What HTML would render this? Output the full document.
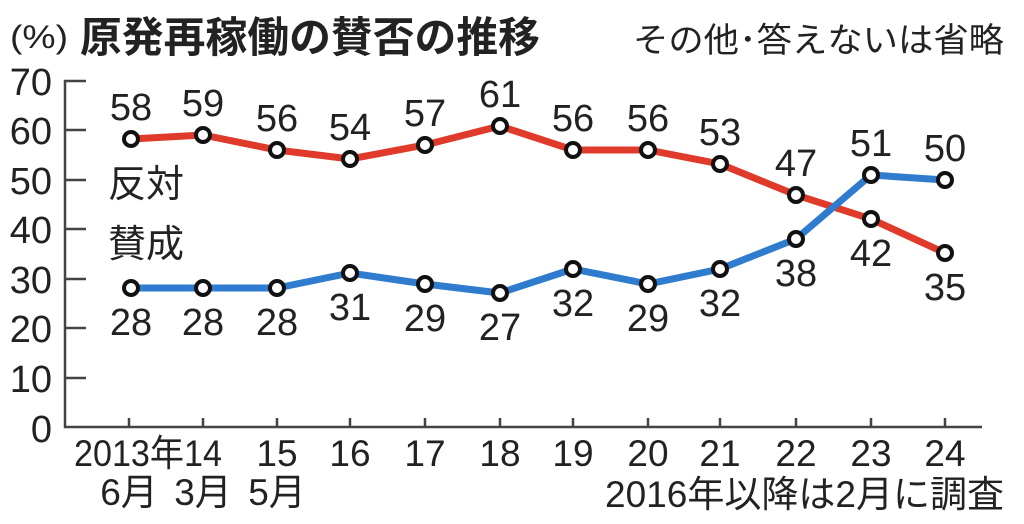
<!DOCTYPE html>
<html><head><meta charset="utf-8"><style>
body{margin:0;background:#fff;}
svg text{font-family:"Liberation Sans","Noto Sans CJK JP",sans-serif;fill:#222;}
</style></head><body>
<svg width="1024" height="519" viewBox="0 0 1024 519" xmlns="http://www.w3.org/2000/svg">
<rect width="1024" height="519" fill="#fff"/>
<text x="10" y="48" font-size="32" fill="#333" textLength="58" lengthAdjust="spacingAndGlyphs">(%)</text>
<text x="80" y="52" font-size="42" font-weight="bold" fill="#222" textLength="460" lengthAdjust="spacingAndGlyphs">原発再稼働の賛否の推移</text>
<text x="633" y="52" font-size="34" fill="#333" textLength="371" lengthAdjust="spacingAndGlyphs">その他･答えないは省略</text>
<g font-size="38" text-anchor="end" fill="#333">
<text x="52" y="95">70</text><text x="52" y="144">60</text><text x="52" y="194">50</text><text x="52" y="243">40</text><text x="52" y="293">30</text><text x="52" y="342">20</text><text x="52" y="392">10</text><text x="52" y="442">0</text>
</g>
<g stroke="#444" stroke-width="2.5" fill="none">
<path d="M86 81H65V427H982"/>
<path d="M65 130H86M65 180H86M65 229H86M65 279H86M65 328H86M65 378H86"/>
<path d="M129 427v-9M203 427v-9M277 427v-9M350 427v-9M425 427v-9M500 427v-9M573 427v-9M648 427v-9M720 427v-9M796 427v-9M871 427v-9M945 427v-9"/>
</g>
<g font-size="37" text-anchor="middle" fill="#333">
<text x="74" y="466" text-anchor="start" textLength="148" lengthAdjust="spacingAndGlyphs">2013年14</text>
<text x="277" y="466">15</text><text x="350" y="466">16</text><text x="425" y="466">17</text><text x="500" y="466">18</text><text x="573" y="466">19</text><text x="648" y="466">20</text><text x="720" y="466">21</text><text x="796" y="466">22</text><text x="871" y="466">23</text><text x="945" y="466">24</text>
<text x="129" y="505">6月</text><text x="203" y="505">3月</text><text x="277" y="505">5月</text>
<text x="605" y="507" text-anchor="start" textLength="399" lengthAdjust="spacingAndGlyphs">2016年以降は2月に調査</text>
</g>
<polyline fill="none" stroke="#e03a2a" stroke-width="7" points="131,139 203,135 277,150 350,159 425,145 500,126 573,150 648,150 720,164 796,195 871,219 945,253"/>
<polyline fill="none" stroke="#2f7ccf" stroke-width="7" points="131,288 203,288 277,288 350,273 425,284 500,293 573,269 648,284 720,269 796,239 871,175 945,180"/>
<g fill="#fff" stroke="#111" stroke-width="4">
<circle cx="131" cy="139" r="7"/><circle cx="203" cy="135" r="7"/><circle cx="277" cy="150" r="7"/><circle cx="350" cy="159" r="7"/><circle cx="425" cy="145" r="7"/><circle cx="500" cy="126" r="7"/><circle cx="573" cy="150" r="7"/><circle cx="648" cy="150" r="7"/><circle cx="720" cy="164" r="7"/><circle cx="796" cy="195" r="7"/><circle cx="871" cy="219" r="7"/><circle cx="945" cy="253" r="7"/>
<circle cx="131" cy="288" r="7"/><circle cx="203" cy="288" r="7"/><circle cx="277" cy="288" r="7"/><circle cx="350" cy="273" r="7"/><circle cx="425" cy="284" r="7"/><circle cx="500" cy="293" r="7"/><circle cx="573" cy="269" r="7"/><circle cx="648" cy="284" r="7"/><circle cx="720" cy="269" r="7"/><circle cx="796" cy="239" r="7"/><circle cx="871" cy="175" r="7"/><circle cx="945" cy="180" r="7"/>
</g>
<g font-size="38" text-anchor="middle" fill="#222">
<text x="131" y="120">58</text><text x="203" y="116">59</text><text x="277" y="131">56</text><text x="350" y="140">54</text><text x="425" y="126">57</text><text x="500" y="107">61</text><text x="573" y="131">56</text><text x="648" y="131">56</text><text x="720" y="145">53</text><text x="796" y="176">47</text><text x="871" y="156">51</text><text x="945" y="161">50</text>
<text x="131" y="335">28</text><text x="203" y="335">28</text><text x="277" y="335">28</text><text x="350" y="320">31</text><text x="425" y="331">29</text><text x="500" y="340">27</text><text x="573" y="316">32</text><text x="648" y="331">29</text><text x="720" y="316">32</text><text x="796" y="286">38</text><text x="871" y="266">42</text><text x="945" y="300">35</text>
</g>
<text x="108" y="197" font-size="38" fill="#222">反対</text>
<text x="108" y="257" font-size="38" fill="#222">賛成</text>
</svg>
</body></html>
